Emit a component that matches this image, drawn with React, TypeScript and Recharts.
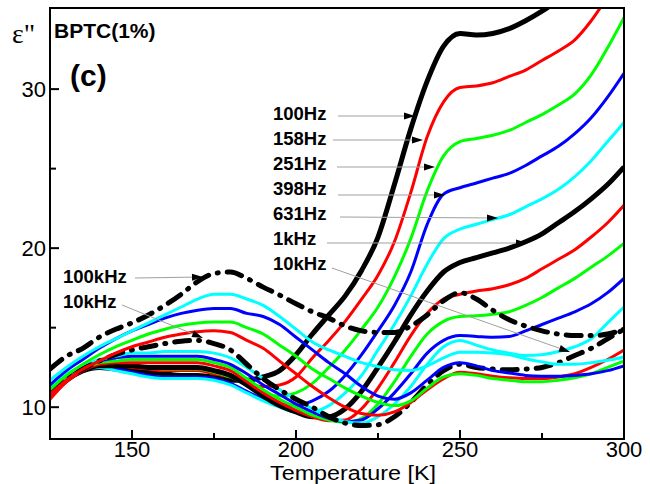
import { LineChart, Line, XAxis, YAxis } from "recharts"

// temperature grid [K]
const temps = [
  125, 130, 135, 140, 145, 150, 155, 160, 165, 170, 175, 180, 185, 190, 195, 200, 205, 210,
  215, 220, 225, 230, 235, 240, 245, 250, 255, 260, 265, 270, 275, 280, 285, 290, 295, 300,
]

// epsilon'', one list per frequency
const f100Hz = [10.9, 11.8, 12.3, 12.5, 12.4, 12.3, 12.2, 12.1, 12.0, 12.0, 11.9, 11.7, 11.7, 11.9, 12.3, 13.3, 14.6, 15.8, 17.0, 18.6, 20.7, 24.0, 27.5, 30.5, 32.7, 33.5, 33.4, 33.5, 33.8, 34.3, 34.9, 35.6, 36.4, 37.2, 38.0, 38.8]
const f158Hz = [10.5, 11.6, 12.3, 12.6, 12.6, 12.5, 12.4, 12.3, 12.3, 12.3, 12.1, 11.9, 11.5, 11.3, 11.4, 11.9, 13.1, 14.2, 15.4, 16.8, 18.3, 20.4, 23.5, 27.0, 29.2, 30.1, 30.2, 30.4, 30.8, 31.2, 31.8, 32.4, 33.1, 34.3, 35.8, 37.3]
const f251Hz = [10.7, 11.7, 12.3, 12.6, 12.7, 12.6, 12.5, 12.4, 12.4, 12.4, 12.2, 11.9, 11.4, 10.9, 10.7, 10.9, 11.5, 12.5, 13.6, 14.9, 16.3, 18.2, 20.6, 23.6, 25.8, 26.7, 26.9, 27.1, 27.4, 27.9, 28.4, 29.0, 29.7, 30.9, 32.6, 34.5]
const f398Hz = [11.0, 11.9, 12.4, 12.5, 12.4, 12.2, 12.0, 11.9, 11.9, 11.9, 11.8, 11.5, 11.0, 10.5, 10.2, 10.1, 10.4, 11.0, 12.0, 13.3, 14.8, 16.4, 18.5, 21.5, 23.4, 23.8, 24.1, 24.4, 24.7, 25.2, 25.8, 26.4, 27.2, 28.2, 29.5, 31.0]
const f631Hz = [11.2, 12.0, 12.4, 12.5, 12.3, 12.1, 11.9, 11.8, 11.8, 11.8, 11.7, 11.4, 10.9, 10.4, 10.0, 9.7, 9.7, 10.1, 10.9, 12.0, 13.6, 15.2, 17.0, 19.0, 20.6, 21.2, 21.5, 21.8, 22.1, 22.6, 23.1, 23.7, 24.5, 25.5, 26.7, 27.9]
const f1kHz = [10.8, 11.7, 12.3, 12.6, 12.6, 12.6, 12.5, 12.5, 12.5, 12.5, 12.3, 12.0, 11.4, 10.7, 10.1, 9.7, 9.4, 9.4, 9.9, 11.0, 12.5, 14.1, 15.8, 17.3, 18.5, 19.1, 19.4, 19.7, 20.0, 20.4, 20.9, 21.6, 22.3, 23.1, 24.0, 25.1]
const f1k58 = [10.6, 11.6, 12.3, 12.7, 12.8, 12.8, 12.8, 12.8, 12.8, 12.8, 12.6, 12.3, 11.6, 10.9, 10.3, 9.8, 9.4, 9.15, 9.2, 9.9, 11.2, 12.8, 14.5, 15.9, 16.8, 17.1, 17.3, 17.45, 17.7, 18.1, 18.7, 19.3, 19.9, 20.7, 21.6, 22.7]
const f2k51 = [10.9, 11.8, 12.4, 12.8, 12.9, 13.0, 13.0, 13.0, 13.0, 13.0, 12.8, 12.5, 11.8, 11.1, 10.5, 10.0, 9.5, 9.2, 9.05, 9.3, 10.2, 11.6, 13.2, 14.6, 15.4, 15.7, 15.75, 15.85, 16.0, 16.4, 16.9, 17.5, 18.1, 18.8, 19.5, 20.3]
const f3k98 = [11.1, 12.0, 12.5, 12.9, 13.1, 13.2, 13.2, 13.2, 13.2, 13.2, 13.0, 12.7, 12.1, 11.4, 10.8, 10.2, 9.7, 9.3, 9.1, 9.2, 9.9, 10.9, 12.1, 13.4, 14.2, 14.5, 14.45, 14.4, 14.45, 14.8, 15.2, 15.6, 16.0, 16.5, 17.2, 18.1]
const f6k31 = [11.3, 12.1, 12.6, 13.0, 13.2, 13.4, 13.4, 13.5, 13.5, 13.5, 13.4, 13.1, 12.5, 11.8, 11.1, 10.5, 9.9, 9.4, 9.1, 9.0, 9.4, 10.2, 11.3, 12.7, 13.8, 14.2, 13.9, 13.6, 13.4, 13.25, 13.3, 13.5, 13.8, 14.3, 15.3, 16.3]
const f10kHz = [11.0, 11.8, 12.4, 12.9, 13.3, 13.6, 13.8, 14.0, 14.15, 14.2, 14.0, 13.6, 12.7, 11.8, 11.1, 10.5, 10.0, 9.4, 9.0, 8.85, 8.9, 9.4, 10.3, 11.4, 12.3, 12.7, 12.5, 12.4, 12.35, 12.4, 12.5, 12.8, 13.25, 13.7, 14.3, 14.9]
const f15k8 = [10.8, 11.7, 12.4, 12.9, 13.4, 13.8, 14.1, 14.4, 14.6, 14.75, 14.8, 14.7, 14.2, 13.7, 12.9, 12.1, 11.3, 10.6, 10.0, 9.6, 9.5, 9.7, 10.3, 11.1, 11.8, 12.2, 12.1, 11.95, 11.85, 11.8, 11.8, 11.9, 12.1, 12.5, 13.0, 13.6]
const f25k1 = [11.1, 12.0, 12.7, 13.3, 13.8, 14.2, 14.6, 14.9, 15.15, 15.3, 15.35, 15.35, 15.0, 14.6, 13.9, 13.2, 12.4, 11.8, 11.2, 10.7, 10.3, 10.1, 10.4, 11.2, 11.9, 12.1, 12.0, 11.8, 11.7, 11.6, 11.6, 11.7, 11.85, 12.1, 12.5, 12.9]
const f39k8 = [11.4, 12.3, 13.0, 13.7, 14.3, 14.8, 15.2, 15.6, 15.9, 16.1, 16.2, 16.2, 15.9, 15.7, 15.2, 14.4, 13.6, 12.8, 12.1, 11.3, 10.7, 10.5, 10.9, 11.7, 12.5, 12.8, 12.6, 12.3, 12.15, 12.0, 11.95, 11.95, 12.0, 12.1, 12.3, 12.6]
const f63k1 = [11.7, 12.5, 13.2, 13.8, 14.3, 14.8, 15.3, 15.8, 16.3, 16.8, 17.1, 17.1, 16.8, 16.4, 15.7, 14.9, 14.1, 13.6, 13.2, 12.8, 12.55, 12.35, 12.3, 12.6, 13.1, 13.45, 13.45, 13.4, 13.3, 13.05, 12.85, 12.7, 12.7, 12.8, 12.95, 13.15]
const f100kHz = [12.4, 13.2, 13.7, 14.4, 14.9, 15.3, 15.8, 16.4, 17.1, 17.9, 18.4, 18.5, 18.1, 17.55, 17.05, 16.5, 16.0, 15.6, 15.1, 14.8, 14.7, 14.7, 15.1, 15.8, 16.7, 17.2, 16.8, 16.1, 15.5, 15.1, 14.8, 14.6, 14.5, 14.5, 14.6, 14.9]

const xTicks = [150, 175, 200, 225, 250, 275, 300]
const xMajor = [150, 200, 250, 300]
const yTicks = [10, 15, 20, 25, 30]
const yMajor = [10, 20, 30]

const DASHDOT = "15 9 1 9"

const series = [
  { key: "a", values: f100Hz, color: "#000000", width: 5 },
  { key: "b", values: f158Hz, color: "#ff0000", width: 3 },
  { key: "c", values: f251Hz, color: "#00ff00", width: 3 },
  { key: "d", values: f398Hz, color: "#0000ff", width: 3 },
  { key: "e", values: f631Hz, color: "#00ffff", width: 3 },
  { key: "f", values: f1kHz, color: "#000000", width: 5 },
  { key: "g", values: f1k58, color: "#ff0000", width: 3 },
  { key: "h", values: f2k51, color: "#00ff00", width: 3 },
  { key: "i", values: f3k98, color: "#0000ff", width: 3 },
  { key: "j", values: f6k31, color: "#00ffff", width: 3 },
  { key: "k", values: f10kHz, color: "#000000", width: 5, dash: DASHDOT },
  { key: "l", values: f15k8, color: "#ff0000", width: 3 },
  { key: "m", values: f25k1, color: "#00ff00", width: 3 },
  { key: "n", values: f39k8, color: "#0000ff", width: 3 },
  { key: "o", values: f63k1, color: "#00ffff", width: 3 },
  { key: "p", values: f100kHz, color: "#000000", width: 5, dash: DASHDOT },
]

const data = temps.map((t, i) => {
  const row: Record<string, number> = { t }
  series.forEach((s) => {
    row[s.key] = s.values[i]
  })
  return row
})

// frequency labels with leader arrows (pixel positions)
const notes = [
  { label: "100Hz", tx: 273, ty: 120, x1: 338, y1: 116, x2: 415, y2: 116 },
  { label: "158Hz", tx: 273, ty: 145, x1: 333, y1: 140, x2: 423, y2: 140 },
  { label: "251Hz", tx: 273, ty: 170, x1: 337, y1: 167, x2: 435, y2: 167 },
  { label: "398Hz", tx: 273, ty: 195, x1: 338, y1: 195, x2: 445, y2: 195 },
  { label: "631Hz", tx: 273, ty: 220, x1: 340, y1: 217, x2: 498, y2: 218 },
  { label: "1kHz", tx: 273, ty: 245, x1: 327, y1: 243, x2: 527, y2: 243 },
  { label: "10kHz", tx: 273, ty: 270, x1: 332, y1: 268, x2: 570, y2: 352 },
  { label: "100kHz", tx: 63, ty: 283, x1: 135, y1: 278, x2: 203, y2: 277 },
  { label: "10kHz", tx: 63, ty: 308, x1: 122, y1: 305, x2: 203, y2: 338 },
]

const FONT = "'Liberation Sans', Arial, sans-serif"

const XTick = (props: any) => {
  const { x, y, payload } = props
  const major = xMajor.includes(payload.value)
  return (
    <g>
      <line x1={x} x2={x} y1={y} y2={y - (major ? 9 : 6)} stroke="#000" strokeWidth={2} />
      {major && (
        <text x={x} y={y + 18} textAnchor="middle" fontSize={22} fontFamily={FONT} fill="#000">
          {payload.value}
        </text>
      )}
    </g>
  )
}

const YTick = (props: any) => {
  const { x, y, payload } = props
  const major = yMajor.includes(payload.value)
  return (
    <g>
      <line x1={x} x2={x + (major ? 9 : 6)} y1={y} y2={y} stroke="#000" strokeWidth={2} />
      {major && (
        <text x={x - 4} y={y + 8} textAnchor="end" fontSize={22} fontFamily={FONT} fill="#000">
          {payload.value}
        </text>
      )}
    </g>
  )
}

function Arrow({ x1, y1, x2, y2 }: { x1: number; y1: number; y2: number; x2: number }) {
  const a = Math.atan2(y2 - y1, x2 - x1)
  const len = 11
  const hw = 3.5
  const bx = x2 - len * Math.cos(a)
  const by = y2 - len * Math.sin(a)
  const px = -Math.sin(a) * hw
  const py = Math.cos(a) * hw
  return (
    <g>
      <line x1={x1} y1={y1} x2={bx} y2={by} stroke="#a0a0a0" strokeWidth={1} />
      <polygon points={`${x2},${y2} ${bx + px},${by + py} ${bx - px},${by - py}`} fill="#000" />
    </g>
  )
}

export default function App() {
  return (
    <div style={{ position: "fixed", left: 0, top: 0, width: 650, height: 484, background: "#fff" }}>
      <LineChart width={650} height={484} data={data} margin={{ top: 8, right: 26, bottom: 8, left: 8 }}>
        <XAxis
          dataKey="t"
          type="number"
          domain={[125, 300]}
          allowDataOverflow
          ticks={xTicks}
          tick={<XTick />}
          tickLine={false}
          tickSize={0}
          tickMargin={0}
          height={37}
          axisLine={{ stroke: "#000", strokeWidth: 2 }}
        />
        <YAxis
          type="number"
          domain={[8, 35.1]}
          allowDataOverflow
          ticks={yTicks}
          tick={<YTick />}
          tickLine={false}
          tickSize={0}
          tickMargin={0}
          width={42}
          axisLine={{ stroke: "#000", strokeWidth: 2 }}
        />
        {series.map((s) => (
          <Line
            key={s.key}
            dataKey={s.key}
            type="monotone"
            stroke={s.color}
            strokeWidth={s.width}
            strokeDasharray={s.dash}
            strokeLinecap={s.dash ? "round" : "butt"}
            dot={false}
            activeDot={false}
            isAnimationActive={false}
          />
        ))}
      </LineChart>
      <svg
        width={650}
        height={484}
        style={{ position: "absolute", left: 0, top: 0, pointerEvents: "none" }}
      >
        <rect x={50} y={8} width={574} height={431} fill="none" stroke="#000" strokeWidth={2} />
        <text x={12} y={43} fontSize={28} fontFamily="'Liberation Serif', 'Times New Roman', serif" fill="#000">
          ε"
        </text>
        <text x={54} y={38} fontSize={21} fontWeight="bold" fontFamily={FONT} fill="#000">
          BPTC(1%)
        </text>
        <text x={70} y={86} fontSize={30} fontWeight="bold" fontFamily={FONT} fill="#000">
          (c)
        </text>
        {notes.map((n, i) => (
          <g key={i}>
            <Arrow x1={n.x1} y1={n.y1} x2={n.x2} y2={n.y2} />
            <text x={n.tx} y={n.ty} fontSize={18.5} fontWeight="bold" fontFamily={FONT} fill="#000">
              {n.label}
            </text>
          </g>
        ))}
        <text
          x={353}
          y={480}
          textAnchor="middle"
          fontSize={20}
          textLength={166}
          lengthAdjust="spacingAndGlyphs"
          fontFamily={FONT}
          fill="#000"
        >
          Temperature [K]
        </text>
      </svg>
    </div>
  )
}
